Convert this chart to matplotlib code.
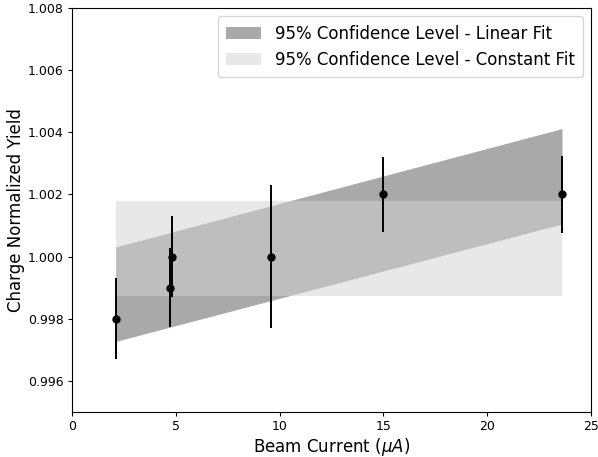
import matplotlib
matplotlib.use("Agg")
import matplotlib.pyplot as plt
import numpy as np

# measured points
beam_current = [2.1, 4.7, 4.8, 9.6, 15.0, 23.6]
norm_yield = [0.998, 0.999, 1.000, 1.000, 1.002, 1.002]
yield_err = [0.0013, 0.00127, 0.0013, 0.0023, 0.00122, 0.00125]

# confidence bands (read at the ends of the fit range)
band_x = [2.1, 23.6]
linear_lower = [0.99727, 1.00105]
linear_upper = [1.00031, 1.00412]
const_lower = [0.99873, 0.99873]
const_upper = [1.00178, 1.00178]

fig = plt.figure(figsize=(5.98, 4.57), dpi=100)
ax = fig.add_axes([0.1204, 0.0985, 0.868, 0.884])

ax.fill_between(band_x, linear_lower, linear_upper, color="darkgray", linewidth=0,
                label="95% Confidence Level - Linear Fit")
ax.fill_between(band_x, const_lower, const_upper, color="lightgray", alpha=0.5, linewidth=0,
                label="95% Confidence Level - Constant Fit")
ax.errorbar(beam_current, norm_yield, yerr=yield_err, fmt="o", color="black",
            markersize=5, elinewidth=1.4, capsize=0)

ax.set_xlim(0, 25)
ax.set_ylim(0.995, 1.008)
ax.set_yticks(np.arange(0.996, 1.0081, 0.002))
ax.tick_params(labelsize=9, length=3, pad=3)
ax.set_xlabel(r"Beam Current ($\mu A$)", fontsize=12, labelpad=2)
ax.set_ylabel("Charge Normalized Yield", fontsize=12, labelpad=2)
ax.legend(loc="upper right", fontsize=12, handlelength=2.1, borderpad=0.5)

fig.savefig("out.png", dpi=100)
